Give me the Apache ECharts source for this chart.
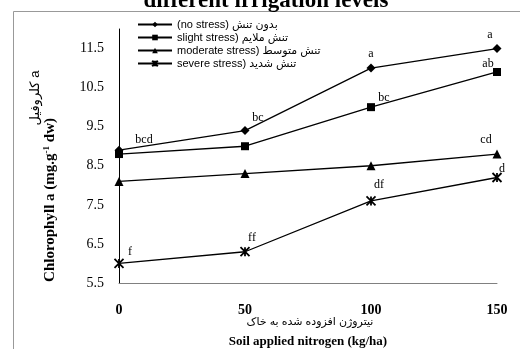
<!DOCTYPE html>
<html>
<head>
<meta charset="utf-8">
<script src="https://cdn.jsdelivr.net/npm/echarts@6/dist/echarts.min.js"></script>
<style>
  html, body { margin: 0; padding: 0; background: #fff; }
  #chart { width: 520px; height: 349px; }
</style>
</head>
<body>
<div id="chart"></div>
<script>
// Nitrogen rates (kg/ha) on the x axis
var nitrogen = ['0', '50', '100', '150'];

// Chlorophyll a (mg g-1 dw) for each irrigation level
var noStress = [8.9, 9.4, 11.0, 11.5];
var slightStress = [8.8, 9.0, 10.0, 10.9];
var moderateStress = [8.1, 8.3, 8.5, 8.8];
var severeStress = [6.0, 6.3, 7.6, 8.2];

// Mean-comparison letters above the points ('' = no letter)
var noStressLetters = ['bcd', 'bc', 'a', 'a'];
var slightLetters = ['', '', 'bc', 'ab'];
var moderateLetters = ['', '', '', 'cd'];
var severeLetters = ['f', 'ff', 'df', 'd'];

var seriesNames = [
  '(no stress) بدون تنش',
  'slight stress) تنش ملایم',
  'moderate stress) تنش متوسط',
  'severe stress) تنش شدید'
];

// Letter offsets relative to each point
var noStressOffsets = [[25, -10], [13, -13], [0, -14], [-7, -14]];
var slightOffsets = [[0, 0], [0, 0], [13, -9], [-9, -8]];
var moderateOffsets = [[0, 0], [0, 0], [0, 0], [-11, -14]];
var severeOffsets = [[11, -12], [7, -14], [8, -16], [5, -9]];

var SERIF = '"Liberation Serif", "DejaVu Serif", serif';
var SANS = '"Liberation Sans", Arial, "DejaVu Sans", sans-serif';

function buildData(values, letters, offsets) {
  return values.map(function (v, i) {
    var item = { value: v };
    if (letters[i]) {
      item.label = {
        show: true,
        formatter: letters[i],
        position: 'inside',
        offset: offsets[i]
      };
    }
    return item;
  });
}

function lineSeries(name, values, letters, offsets, symbol, size, extraItemStyle) {
  var itemStyle = { color: '#000' };
  if (extraItemStyle) {
    for (var k in extraItemStyle) itemStyle[k] = extraItemStyle[k];
  }
  return {
    name: name,
    type: 'line',
    data: buildData(values, letters, offsets),
    symbol: symbol,
    symbolSize: size,
    showAllSymbol: true,
    lineStyle: { color: '#000', width: 1.3 },
    itemStyle: itemStyle,
    label: {
      show: false,
      color: '#000',
      fontFamily: SERIF,
      fontSize: 12,
      align: 'center',
      verticalAlign: 'middle'
    },
    emphasis: { disabled: true },
    animation: false
  };
}

var starPath = 'path://M0,0L10,10M10,0L0,10M5,0L5,10';

var chart = echarts.init(document.getElementById('chart'), null, { renderer: 'canvas' });

chart.setOption({
  backgroundColor: '#fff',
  animation: false,
  grid: { left: 119, right: 23, top: 29, bottom: 66, containLabel: false },
  legend: {
    orient: 'vertical',
    left: 132,
    top: 14,
    itemWidth: 34,
    itemHeight: 7,
    itemGap: 2,
    textStyle: { fontFamily: SANS, fontSize: 11, color: '#000' },
    data: seriesNames
  },
  xAxis: {
    type: 'category',
    data: nitrogen,
    boundaryGap: false,
    axisLine: { lineStyle: { color: '#808080', width: 1 } },
    axisTick: { show: false },
    axisLabel: {
      color: '#000',
      fontFamily: SERIF,
      fontWeight: 'bold',
      fontSize: 14,
      margin: 20
    },
    splitLine: { show: false }
  },
  yAxis: {
    type: 'value',
    min: 5.5,
    max: 12,
    interval: 0.5,
    axisLine: { show: true, lineStyle: { color: '#000', width: 1 } },
    axisTick: { show: false },
    splitLine: { show: false },
    axisLabel: {
      color: '#000',
      fontFamily: SERIF,
      fontSize: 14,
      margin: 15,
      formatter: function (v) {
        return (Math.round(v * 2) % 2 === 1) ? v.toFixed(1) : '';
      }
    }
  },
  series: [
    lineSeries(seriesNames[0], noStress, noStressLetters, noStressOffsets, 'diamond', 9),
    lineSeries(seriesNames[1], slightStress, slightLetters, slightOffsets, 'rect', 8),
    lineSeries(seriesNames[2], moderateStress, moderateLetters, moderateOffsets, 'triangle', 9),
    lineSeries(seriesNames[3], severeStress, severeLetters, severeOffsets, starPath, 9,
      { color: 'rgba(0,0,0,0)', borderColor: '#000', borderWidth: 1.8 })
  ],
  graphic: [
    {
      type: 'rect',
      z: -10,
      silent: true,
      shape: { x: 13.5, y: 11.5, width: 600, height: 400 },
      style: { fill: null, stroke: '#999', lineWidth: 1 }
    },
    {
      type: 'text',
      x: 266,
      y: 13,
      silent: true,
      style: {
        text: 'different irrigation levels',
        font: 'bold 23px ' + SERIF,
        fill: '#000',
        align: 'center',
        verticalAlign: 'bottom'
      }
    },
    {
      type: 'text',
      x: 50,
      y: 200,
      rotation: Math.PI / 2,
      silent: true,
      style: {
        text: '{b|Chlorophyll a (mg.g}{s|-1}{b| dw)}',
        align: 'center',
        verticalAlign: 'middle',
        fill: '#000',
        rich: {
          b: { fontFamily: SERIF, fontWeight: 'bold', fontSize: 15, fill: '#000' },
          s: { fontFamily: SERIF, fontWeight: 'bold', fontSize: 9, fill: '#000', verticalAlign: 'top', padding: [0, 0, 7, 0] }
        }
      }
    },
    {
      type: 'text',
      x: 35,
      y: 98,
      rotation: Math.PI / 2,
      silent: true,
      style: {
        text: 'کلروفیل a',
        font: '13px ' + SANS,
        fill: '#000',
        align: 'center',
        verticalAlign: 'middle'
      }
    },
    {
      type: 'text',
      x: 310,
      y: 322,
      silent: true,
      style: {
        text: 'نیتروژن افزوده شده به خاک',
        font: '11px ' + SANS,
        fill: '#000',
        align: 'center',
        verticalAlign: 'middle'
      }
    },
    {
      type: 'text',
      x: 308,
      y: 342,
      silent: true,
      style: {
        text: 'Soil applied nitrogen (kg/ha)',
        font: 'bold 13px ' + SERIF,
        fill: '#000',
        align: 'center',
        verticalAlign: 'middle'
      }
    }
  ]
});
</script>
</body>
</html>
